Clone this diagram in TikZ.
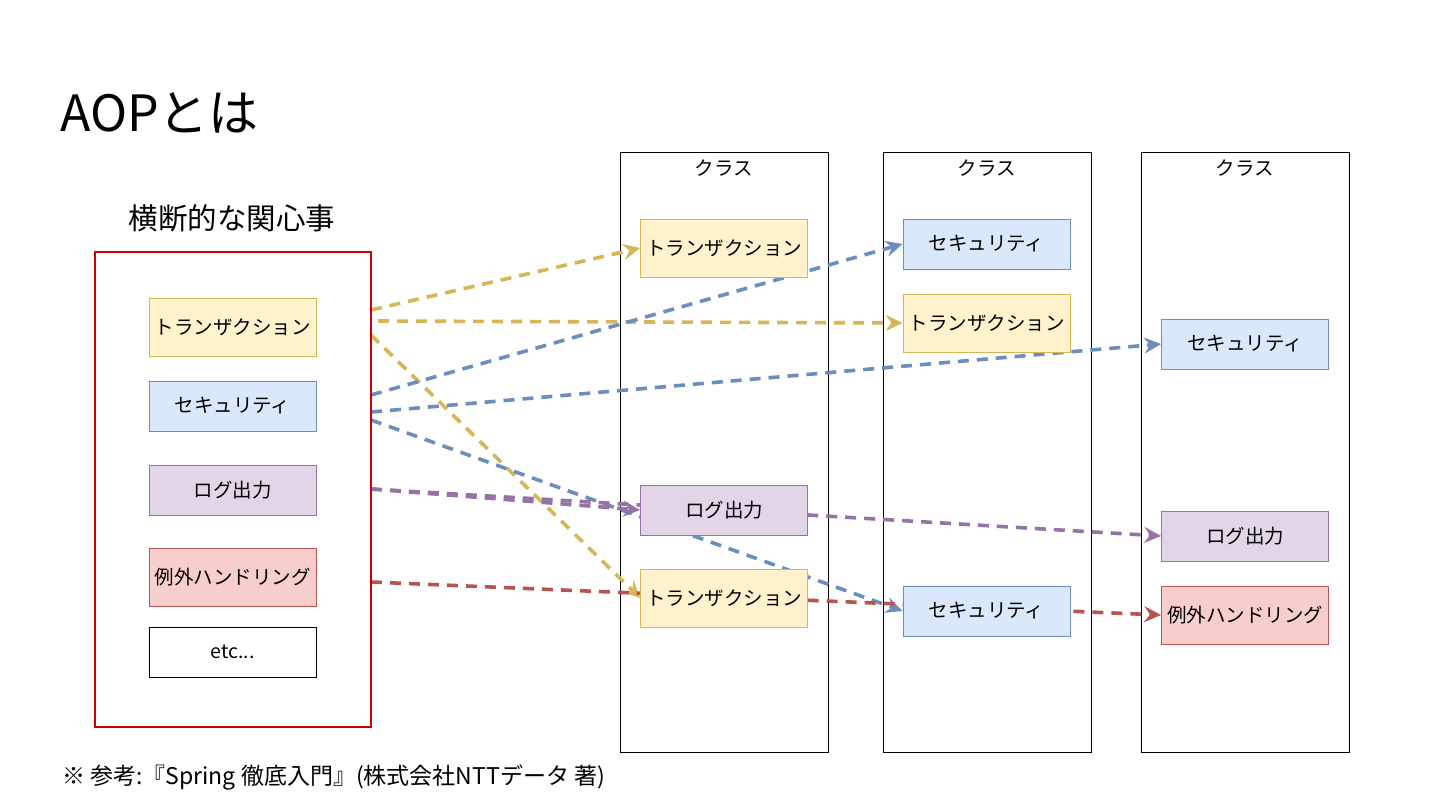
\documentclass[tikz,border=0pt]{standalone}
\usepackage{fontspec}
\setmainfont{Noto Sans CJK JP}
\usetikzlibrary{arrows.meta}
\definecolor{yfill}{HTML}{FFF2CC}\definecolor{ystroke}{HTML}{D6B656}
\definecolor{bfill}{HTML}{DAE8FC}\definecolor{bstroke}{HTML}{6C8EBF}
\definecolor{pfill}{HTML}{E1D5E7}\definecolor{pstroke}{HTML}{9673A6}
\definecolor{rfill}{HTML}{F8CECC}\definecolor{rstroke}{HTML}{B85450}
\definecolor{redbox}{HTML}{CC0000}
\pgfdeclarelayer{cols}\pgfdeclarelayer{arrows}
\pgfsetlayers{cols,arrows,main}
\tikzset{
  box/.style={draw, line width=0.8pt, minimum width=167pt, inner sep=0pt, font=\fontsize{19.5}{22}\selectfont},
  tbox/.style={box, fill=yfill, draw=ystroke, minimum height=58pt},
  sbox/.style={box, fill=bfill, draw=bstroke, minimum height=50pt},
  lbox/.style={box, fill=pfill, draw=pstroke, minimum height=50pt},
  ebox/.style={box, fill=rfill, draw=rstroke, minimum height=58pt},
  wbox/.style={box, fill=white, draw=black, minimum height=50pt},
  colbox/.style={draw=black, line width=0.8pt, fill=white, minimum width=208pt, minimum height=600pt, inner sep=0pt},
  conn/.style={line width=3.6pt, dash pattern=on 11pt off 8pt, -{Stealth[length=17pt,width=16pt,inset=6pt]}},
}
\begin{document}
\begin{tikzpicture}[x=1pt,y=-1pt]
\useasboundingbox (0,0) rectangle (1440,810);
\begin{pgfonlayer}{cols}
\fill[white] (0,0) rectangle (1440,810);
\end{pgfonlayer}
\node[anchor=west, inner sep=0pt, font=\fontsize{50}{56}\selectfont] (title) at (60,113) {AOPとは};
\node[inner sep=0pt, font=\fontsize{29.5}{34}\selectfont] (cc) at (232,218) {横断的な関心事};
\node[draw=redbox, line width=2.5pt, minimum width=276pt, minimum height=475pt, inner sep=0pt] (red) at (233,489.5) {};
% left boxes
\node[tbox] (lt) at (232.5,327) {トランザクション};
\node[sbox] (ls) at (232.5,406) {セキュリティ};
\node[lbox] (ll) at (232.5,490) {ログ出力};
\node[ebox] (le) at (232.5,577) {例外ハンドリング};
\node[wbox] (lx) at (232.5,652) {etc...};
% columns
\begin{pgfonlayer}{cols}
\node[colbox] (col1) at (724,452) {};
\node[colbox] (col2) at (987,452) {};
\node[colbox] (col3) at (1245,452) {};
\end{pgfonlayer}
\foreach \c/\x in {1/724,2/987,3/1245}{
  \node[inner sep=0pt, font=\fontsize{19.5}{22}\selectfont] (k\c) at (\x,168) {クラス};
}
% column contents
\node[tbox] (c1t) at (724,248) {トランザクション};
\node[lbox] (c1l) at (724,510) {ログ出力};
\node[tbox] (c1u) at (724,598) {トランザクション};
\node[sbox] (c2s) at (986.5,244) {セキュリティ};
\node[tbox] (c2t) at (986.5,323) {トランザクション};
\node[sbox] (c2r) at (986.5,611) {セキュリティ};
\node[sbox] (c3s) at (1245,344) {セキュリティ};
\node[lbox] (c3l) at (1245,536) {ログ出力};
\node[ebox] (c3e) at (1245,615) {例外ハンドリング};
% start coordinates on the red box
\coordinate (sy1) at (371,310);
\coordinate (sy2) at (378,321);
\coordinate (sy3) at (371,335);
\coordinate (sb1) at (371,395);
\coordinate (sb2) at (371,412);
\coordinate (sb3) at (371,420);
\coordinate (sp1) at (371,489);
\coordinate (sr1) at (371,582);
\begin{pgfonlayer}{arrows}
\draw[conn, ystroke] (sy1) -- (c1t.west);
\draw[conn, ystroke] (sy2) -- (c2t.west);
\draw[conn, ystroke] (sy3) -- (c1u.west);
\draw[conn, bstroke] (sb1) -- (c2s.west);
\draw[conn, bstroke] (sb2) -- (c3s.west);
\draw[conn, bstroke] (sb3) -- (c2r.west);
\draw[conn, pstroke] (sp1) -- (c1l.west);
\draw[conn, pstroke] (sp1) -- (c3l.west);
\draw[conn, rstroke] (sr1) -- (c3e.west);
\end{pgfonlayer}
\node[anchor=west, inner sep=0pt, font=\fontsize{23}{27}\selectfont] (foot) at (62,778) {※ 参考:『Spring 徹底入門』(株式会社NTTデータ 著)};
\end{tikzpicture}
\end{document}
